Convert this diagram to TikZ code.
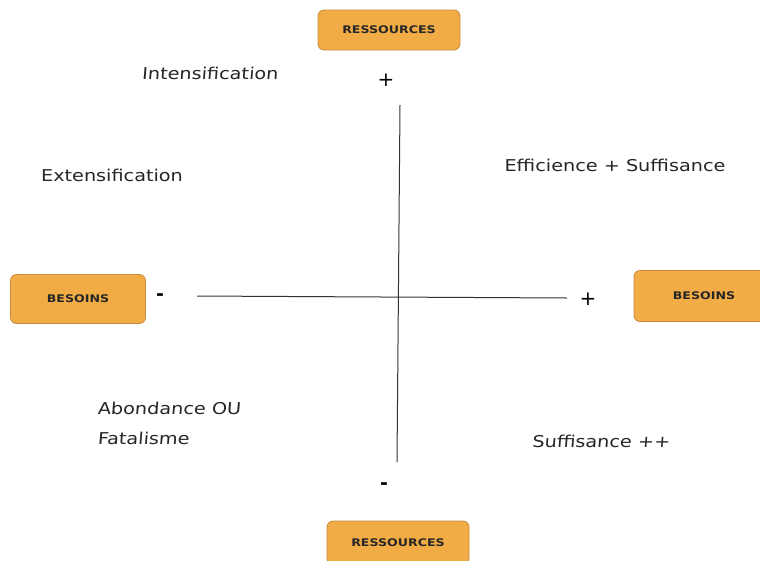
\documentclass[tikz,border=0pt]{standalone}
\usepackage{fontspec}
\setmainfont{DejaVu Sans}
\newfontfamily\lblfont[FakeStretch=1.18]{DejaVu Sans}
\newfontfamily\slfont[FakeStretch=1.18,FakeSlant=0.08]{DejaVu Sans}
\newfontfamily\polefont[FakeStretch=1.2]{DejaVu Sans Bold}
\definecolor{boxfill}{HTML}{F2AC46}
\definecolor{boxedge}{HTML}{C98A3C}
\tikzset{
  pole/.style={draw=boxedge, fill=boxfill, rounded corners=6pt, line width=0.8pt, font=\polefont\fontsize{10.5}{12}\selectfont, text=black!85},
  lbl/.style={font=\lblfont\fontsize{16.3}{19}\selectfont, text=black!85},
  slbl/.style={font=\slfont\fontsize{16.3}{19}\selectfont, text=black!85},
  sign/.style={font=\fontsize{20}{22}\selectfont},
  minus/.style={font=\bfseries\fontsize{19}{21}\selectfont},
  axis/.style={draw=black!80, line width=1pt}
}
\begin{document}
\begin{tikzpicture}[x=1pt,y=-1pt]
\useasboundingbox (0,0) rectangle (760,560);
\fill[white] (0,0) rectangle (760,560);
% pole boxes
\node[pole, minimum width=142pt, minimum height=40pt] (rtop) at (389,30) {RESSOURCES};
\node[pole, minimum width=142pt, minimum height=44pt] (rbot) at (398,543) {RESSOURCES};
\node[pole, minimum width=135pt, minimum height=49pt] (bleft) at (78,299) {BESOINS};
\node[pole, minimum width=140pt, minimum height=51pt] (bright) at (704,296) {BESOINS};
% signs
\node[sign] (ptop) at (386,80) {+};
\node[minus] (mbot) at (384,486) {-};
\node[minus] (mleft) at (160,297) {-};
\node[sign] (pright) at (588,299) {+};
% axes
\coordinate (vt) at (400,105);
\coordinate (vb) at (397,462);
\coordinate (hl) at (197,296);
\coordinate (hr) at (567,298);
\draw[axis] (vt) -- (vb);
\draw[axis] (hl) -- (hr);
% quadrant labels
\node[slbl] (inten) at (210,73) {Intensification};
\node[lbl] (exten) at (112,175) {Extensification};
\node[lbl] (effi) at (615,165) {Efficience + Suffisance};
\node[slbl, anchor=west] (abon) at (94,408) {Abondance OU};
\node[slbl, anchor=west] (fata) at (94,438) {Fatalisme};
\node[slbl] (suff) at (601,441) {Suffisance ++};
\end{tikzpicture}
\end{document}
